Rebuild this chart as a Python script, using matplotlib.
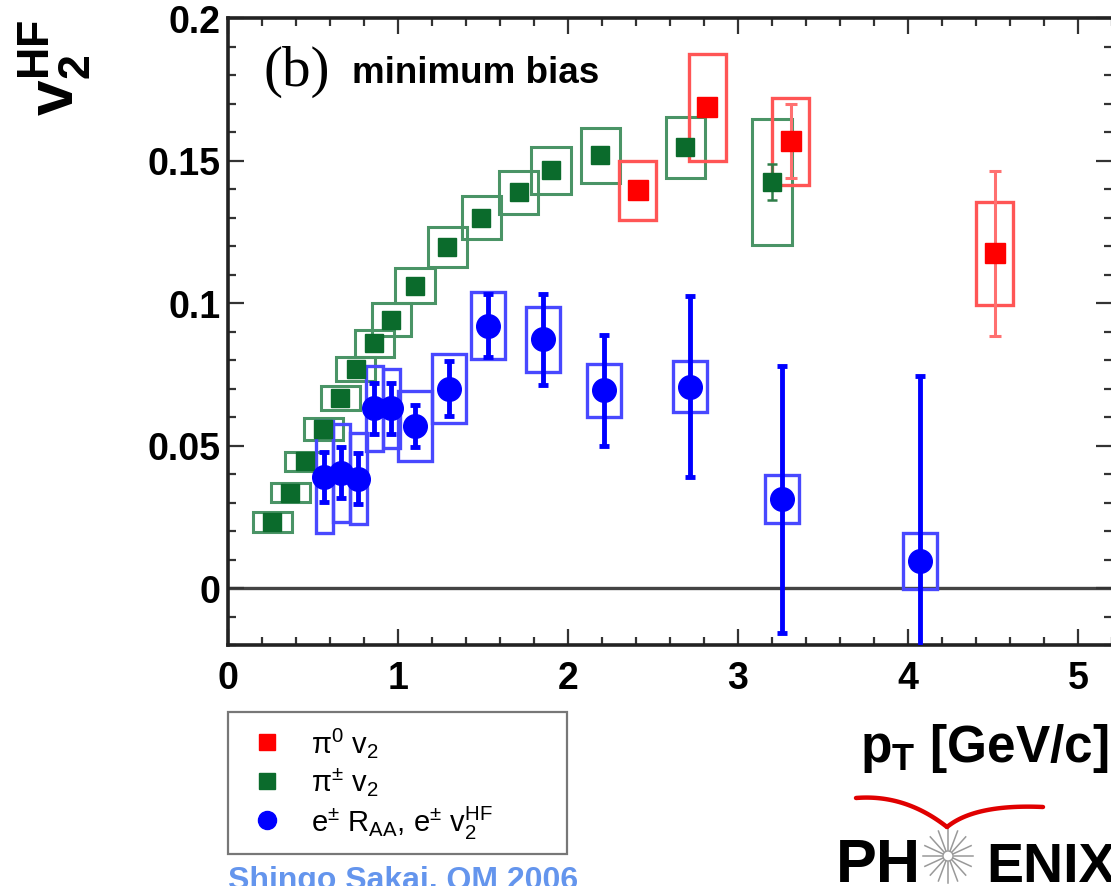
import numpy as np
import matplotlib.pyplot as plt
from matplotlib.patches import Rectangle, Circle
from matplotlib.lines import Line2D
from matplotlib.ticker import MultipleLocator

plt.rcParams['font.family'] = ['Liberation Sans', 'DejaVu Sans']
plt.rcParams['mathtext.fontset'] = 'custom'
plt.rcParams['mathtext.rm'] = 'Liberation Sans'
plt.rcParams['mathtext.it'] = 'Liberation Sans:italic'
plt.rcParams['mathtext.bf'] = 'Liberation Sans:bold'
plt.rcParams['mathtext.default'] = 'regular'

# pi0 v2 (red)
pi0_pt = [2.41, 2.82, 3.31, 4.51]
pi0_v2 = [0.1395, 0.1686, 0.1567, 0.1174]
pi0_stat = [0.003, 0.003, 0.013, 0.029]
pi0_sys = [0.0104, 0.0186, 0.0154, 0.0181]
pi0_dpt = [0.11, 0.11, 0.11, 0.11]

# pi+- v2 (green)
pic_pt = [0.26, 0.365, 0.45, 0.56, 0.66, 0.75, 0.86, 0.96, 1.10, 1.29, 1.49, 1.71,
          1.90, 2.19, 2.69, 3.20]
pic_v2 = [0.0230, 0.0335, 0.0444, 0.0558, 0.0668, 0.0770, 0.0858, 0.0942, 0.1061,
          0.1195, 0.1300, 0.1388, 0.1465, 0.1518, 0.1546, 0.1423]
pic_stat = [0.001, 0.001, 0.001, 0.001, 0.001, 0.001, 0.001, 0.001, 0.001, 0.001,
            0.001, 0.001, 0.001, 0.001, 0.001, 0.0063]
pic_sys = [0.0035, 0.0032, 0.0033, 0.0039, 0.0042, 0.0042, 0.0049, 0.0058, 0.0061,
           0.0070, 0.0074, 0.0075, 0.0082, 0.0096, 0.0107, 0.0221]
pic_dpt = [0.115] * 16

# heavy flavour electron v2 (blue)
e_pt = [0.565, 0.665, 0.765, 0.86, 0.96, 1.10, 1.30, 1.53, 1.85, 2.21, 2.72, 3.26, 4.07]
e_v2 = [0.0390, 0.0405, 0.0384, 0.0630, 0.0630, 0.0567, 0.0700, 0.0921, 0.0872,
        0.0693, 0.0707, 0.0311, 0.0096]
e_stat = [0.0088, 0.0088, 0.0088, 0.0088, 0.0088, 0.0074, 0.0098, 0.0110, 0.0160,
          0.0193, 0.0318, 0.0468, 0.0649]
e_sys = [0.0196, 0.0172, 0.0160, 0.0149, 0.0140, 0.0123, 0.0121, 0.0118, 0.0114,
         0.0093, 0.0089, 0.0084, 0.0098]
e_dpt = [0.05, 0.05, 0.05, 0.05, 0.05, 0.1, 0.1, 0.1, 0.1, 0.1, 0.1, 0.1, 0.1]

xticks = [0, 1, 2, 3, 4, 5]
yticks = [0, 0.05, 0.1, 0.15, 0.2]
ytick_labels = ['0', '0.05', '0.1', '0.15', '0.2']

W, H = 1111, 887
fig = plt.figure(figsize=(W / 100, H / 100), dpi=100)
ax = fig.add_axes([228 / W, 1 - 646 / H, (1112 - 228) / W, (646 - 19) / H])


def sys_boxes(x, y, dx, dy, color, lw):
    for xi, yi, dxi, dyi in zip(x, y, dx, dy):
        ax.add_patch(Rectangle((xi - dxi, yi - dyi), 2 * dxi, 2 * dyi, fill=False,
                               edgecolor=color, lw=lw, zorder=2))


ax.axhline(0, color='#444444', lw=2.4, zorder=1)

sys_boxes(pic_pt, pic_v2, pic_dpt, pic_sys, '#4a9466', 2.2)
sys_boxes(pi0_pt, pi0_v2, pi0_dpt, pi0_sys, '#ff5555', 2.4)
sys_boxes(e_pt, e_v2, e_dpt, e_sys, '#4848ff', 2.4)

ax.errorbar(pic_pt, pic_v2, yerr=pic_stat, fmt='s', color='#0b6b2c', ms=13,
            elinewidth=1.8, capsize=3.5, capthick=1.8, ecolor='#2e7d48', zorder=4)
ax.errorbar(pi0_pt, pi0_v2, yerr=pi0_stat, fmt='s', color='#ff0000', ms=14.5,
            elinewidth=2.2, capsize=4, capthick=2.2, ecolor='#ff7070', zorder=4)
ax.errorbar(e_pt, e_v2, yerr=e_stat, fmt='o', color='#0000ff', ms=17,
            elinewidth=3.5, capsize=3.8, capthick=3.5, ecolor='#0000ff', zorder=5)

ax.set_xlim(0, 5.2)
ax.set_ylim(-0.02, 0.2)
ax.set_xticks(xticks)
ax.set_xticklabels([str(t) for t in xticks])
ax.set_yticks(yticks)
ax.set_yticklabels(ytick_labels)
ax.xaxis.set_minor_locator(MultipleLocator(0.2))
ax.yaxis.set_minor_locator(MultipleLocator(0.01))
ax.tick_params(which='both', direction='in', top=True, right=True, color='#333333')
ax.tick_params(which='major', length=11.5, width=1.6)
ax.tick_params(which='minor', length=5.8, width=1.6)
ax.tick_params(axis='y', which='major', pad=5.5)
ax.tick_params(axis='x', which='major', pad=11)
for lab in ax.get_xticklabels() + ax.get_yticklabels():
    lab.set_fontsize(27)
    lab.set_fontweight('bold')
for s in ax.spines.values():
    s.set_linewidth(2.6)
    s.set_color('#222222')

fig.text(264 / W, 1 - 72 / H, '(b)', family='Liberation Serif', fontsize=41,
         va='center', ha='left')
fig.text(352 / W, 1 - 83 / H, 'minimum bias', fontsize=26.5, fontweight='bold',
         va='baseline', ha='left')

# axis titles
fig.text(55 / W, 1 - 68 / H, r'$\mathbf{v_{2}^{HF}}$', rotation=90, fontsize=46,
         ha='center', va='center')
fig.text(860 / W, 1 - 762 / H, r'$\mathbf{p_{T}}$ [GeV/c]', fontsize=37,
         fontweight='bold', ha='left', va='baseline')

# legend
handles = [Line2D([], [], ls='none', marker='s', color='#ff0000', ms=11),
           Line2D([], [], ls='none', marker='s', color='#0b6b2c', ms=11),
           Line2D([], [], ls='none', marker='o', color='#0000ff', ms=13)]
labels = [r'$\pi^{0}$ v$_{2}$', r'$\pi^{\pm}$ v$_{2}$',
          r'e$^{\pm}$ R$_{AA}$, e$^{\pm}$ v$_{2}^{HF}$']
leg = fig.legend(handles, labels, loc='upper left', mode='expand',
                 bbox_to_anchor=(228 / W, 1 - 841 / H, (567 - 228) / W, (841 - 713) / H),
                 fontsize=21, frameon=True, fancybox=False, borderaxespad=0,
                 borderpad=0.45, handlelength=1.8, handletextpad=0.6, labelspacing=0.2)
leg.get_frame().set_edgecolor('#555555')
leg.get_frame().set_linewidth(1.6)

fig.text(228 / W, 1 - 866 / H, 'Shingo Sakai, QM 2006', color='#6495ed', fontsize=23,
         fontweight='bold', ha='left', va='top')

# PHENIX logo
lg = fig.add_axes([0, 0, 1, 1])
lg.set_xlim(0, W)
lg.set_ylim(H, 0)
lg.axis('off')
lg.text(836, 882, 'PH', fontsize=44, fontweight='bold', ha='left', va='baseline')
lg.text(986, 882, 'ENIX', fontsize=40, fontweight='bold', ha='left', va='baseline')
cx, cy = 948, 857
for a in np.linspace(0, 2 * np.pi, 16, endpoint=False):
    lg.plot([cx + 6 * np.cos(a), cx + 25 * np.cos(a)],
            [cy + 6 * np.sin(a), cy + 27 * np.sin(a)], color='#999999', lw=1.1)
lg.add_patch(Circle((cx, cy), 5, fill=False, edgecolor='#999999', lw=1))
t = np.linspace(0, 1, 40)
for p0, p1, p2 in [((856, 799), (905, 795), (947, 828)),
                   ((947, 828), (975, 805), (1043, 808))]:
    bx = (1 - t) ** 2 * p0[0] + 2 * (1 - t) * t * p1[0] + t ** 2 * p2[0]
    by = (1 - t) ** 2 * p0[1] + 2 * (1 - t) * t * p1[1] + t ** 2 * p2[1]
    lg.plot(bx, by, color='#e00000', lw=3.2, solid_capstyle='round')

fig.savefig('out.png', dpi=100)
